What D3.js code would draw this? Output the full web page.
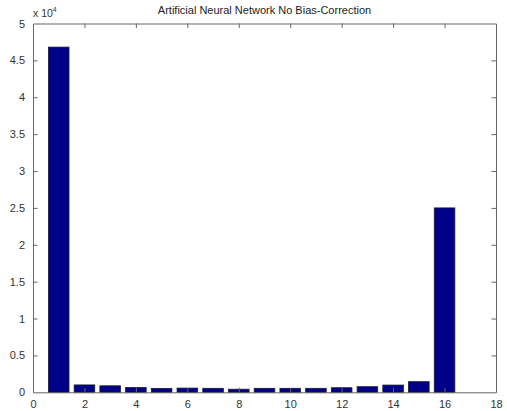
<!DOCTYPE html>
<html>
<head>
<meta charset="utf-8">
<script src="https://cdn.jsdelivr.net/npm/d3@7"></script>
<style>
  html, body { margin: 0; padding: 0; background: #fff; }
  svg { display: block; font-family: "Liberation Sans", Arial, Helvetica, sans-serif; }
</style>
</head>
<body>
<svg id="chart" width="507" height="411"></svg>
<script>
// Bin indices and counts
const categories = [1, 2, 3, 4, 5, 6, 7, 8, 9, 10, 11, 12, 13, 14, 15, 16];
const counts = [46800, 1000, 880, 650, 530, 570, 540, 420, 540, 540, 540, 620, 760, 980, 1440, 25000];
const xTicks = [0, 2, 4, 6, 8, 10, 12, 14, 16, 18];
const yTicks = [0, 0.5, 1, 1.5, 2, 2.5, 3, 3.5, 4, 4.5, 5];
const yExponent = 4;
const titleText = "Artificial Neural Network No Bias-Correction";

const svg = d3.select("#chart");
const margin = { left: 33, right: 11, top: 23.5, bottom: 18.7 };
const W = 507, H = 411;
const x0 = margin.left, x1 = W - margin.right;
const y0 = H - margin.bottom, y1 = margin.top;

const x = d3.scaleLinear().domain([0, 18]).range([x0, x1]);
const y = d3.scaleLinear().domain([0, 5 * Math.pow(10, yExponent)]).range([y0, y1]);
const barW = x(0.8) - x(0);
const axisColor = "#666";
const textColor = "#333";
const tickLen = 4.5;

// Bars
svg.append("g").selectAll("rect")
  .data(categories)
  .join("rect")
  .attr("x", (d) => x(d) - barW / 2)
  .attr("width", barW)
  .attr("y", (d, i) => y(counts[i]))
  .attr("height", (d, i) => y(0) - y(counts[i]))
  .attr("fill", "#000088")
  .attr("stroke", "#1a1a3a")
  .attr("stroke-width", 0.8);

// Axes with inward ticks on all four sides (box style)
const yAxisScale = d3.scaleLinear().domain([0, 5]).range([y0, y1]);

const axBottom = svg.append("g").attr("transform", `translate(0,${y0})`)
  .call(d3.axisBottom(x).tickValues(xTicks).tickSizeInner(-tickLen).tickSizeOuter(0).tickPadding(8));
const axTop = svg.append("g").attr("transform", `translate(0,${y1})`)
  .call(d3.axisTop(x).tickValues(xTicks).tickSizeInner(-tickLen).tickSizeOuter(0).tickFormat(""));
const axLeft = svg.append("g").attr("transform", `translate(${x0},0)`)
  .call(d3.axisLeft(yAxisScale).tickValues(yTicks).tickSizeInner(-tickLen).tickSizeOuter(0).tickPadding(8)
    .tickFormat(d3.format("")));
const axRight = svg.append("g").attr("transform", `translate(${x1},0)`)
  .call(d3.axisRight(yAxisScale).tickValues(yTicks).tickSizeInner(-tickLen).tickSizeOuter(0).tickFormat(""));

[axBottom, axTop, axLeft, axRight].forEach((g) => {
  g.selectAll("path.domain").attr("stroke", axisColor).attr("stroke-width", 1);
  g.selectAll(".tick line").attr("stroke", axisColor).attr("stroke-width", 1);
  g.selectAll(".tick text").attr("fill", textColor).attr("font-size", 11)
    .attr("font-family", "Liberation Sans, Arial, sans-serif");
});
// No tick marks at the axis ends
[axBottom, axTop].forEach((g) => g.selectAll(".tick").filter((d) => d === 0 || d === 18).select("line").remove());
[axLeft, axRight].forEach((g) => g.selectAll(".tick").filter((d) => d === 0 || d === 5).select("line").remove());

// Exponent label
const expLabel = svg.append("text")
  .attr("x", x0).attr("y", 17)
  .attr("fill", textColor).attr("font-size", 10.5);
expLabel.append("tspan").text("x 10");
expLabel.append("tspan").attr("dy", -5).attr("font-size", 7).text(yExponent);

// Title
svg.append("text")
  .attr("x", (x0 + x1) / 2).attr("y", 14)
  .attr("text-anchor", "middle")
  .attr("fill", "#222").attr("font-size", 11)
  .text(titleText);
</script>
</body>
</html>
